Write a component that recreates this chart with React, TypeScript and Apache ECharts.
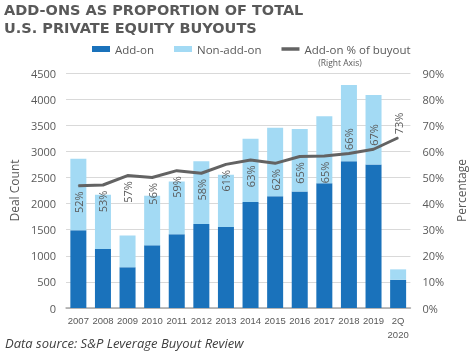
import React, { useEffect, useRef } from 'react';
import * as echarts from 'echarts';

const categories = ['2007', '2008', '2009', '2010', '2011', '2012', '2013', '2014', '2015', '2016', '2017', '2018', '2019', '2Q\n2020'];
const addOn = [1490, 1130, 780, 1200, 1410, 1610, 1550, 2030, 2140, 2230, 2390, 2810, 2750, 540];
const nonAddOn = [1370, 1040, 610, 950, 1010, 1200, 1000, 1210, 1310, 1200, 1280, 1460, 1330, 200];
const addOnPct = [46.8, 47.1, 50.7, 50.0, 52.6, 51.6, 55.0, 56.7, 55.4, 58.0, 58.2, 59.2, 60.8, 65.2];
const pctLabels = ['52%', '53%', '57%', '56%', '59%', '58%', '61%', '63%', '62%', '65%', '65%', '66%', '67%', '73%'];
const labelAbove = [false, false, false, false, false, false, false, false, false, false, false, true, true, true];

export default function App() {
  const ref = useRef<HTMLDivElement>(null);
  useEffect(() => {
    const chart = echarts.init(ref.current!, null, { renderer: 'svg' });
    const gray = '#595959';
    const font = 'Open Sans';
    chart.setOption({
      animation: false,
      title: {
        text: 'ADD-ONS AS PROPORTION OF TOTAL\nU.S. PRIVATE EQUITY BUYOUTS',
        left: 4,
        top: 1,
        padding: 0,
        textStyle: { fontFamily: 'DejaVu Sans', fontWeight: 'bold', fontSize: 14.5, lineHeight: 18, color: gray },
      },
      legend: {
        left: 92,
        top: 43,
        padding: 0,
        itemWidth: 18,
        itemHeight: 6,
        itemGap: 20,
        data: [
          { name: 'Add-on', icon: 'rect' },
          { name: 'Non-add-on', icon: 'rect' },
          { name: 'Add-on % of buyout', icon: 'path://M0,0H18V3.5H0Z' },
        ],
        textStyle: { color: gray, fontSize: 11.5, fontFamily: font },
      },
      graphic: [
        { type: 'text', x: 340, y: 62.5, style: { text: '(Right Axis)', fontSize: 8.5, fontFamily: font, fill: gray, align: 'center', verticalAlign: 'middle' } },
        { type: 'text', x: 5, y: 343, style: { text: 'Data source: S&P Leverage Buyout Review', fontSize: 13, fontStyle: 'italic', fontFamily: font, fill: '#404040', align: 'left', verticalAlign: 'middle' } },
      ],
      grid: { left: 58, right: 60, top: 73, bottom: 44 },
      xAxis: {
        type: 'category',
        data: categories,
        axisTick: { show: false },
        axisLine: { lineStyle: { color: '#a6a6a6', width: 1.5 } },
        axisLabel: { color: gray, fontSize: 9.5, fontFamily: 'Liberation Sans', margin: 5, lineHeight: 14, interval: 0 },
      },
      yAxis: [
        {
          type: 'value', min: 0, max: 4500, interval: 500,
          name: 'Deal Count', nameLocation: 'middle', nameGap: 40, nameRotate: 90,
          nameTextStyle: { color: gray, fontSize: 12, fontFamily: font },
          axisLine: { show: false }, axisTick: { show: false },
          axisLabel: { color: gray, fontSize: 11, fontFamily: font, margin: 10, formatter: (v: number) => String(v) },
          splitLine: { lineStyle: { color: '#d9d9d9', width: 1 } },
        },
        {
          type: 'value', min: 0, max: 90, interval: 10, position: 'right',
          name: 'Percentage', nameLocation: 'middle', nameGap: 42, nameRotate: 90,
          nameTextStyle: { color: gray, fontSize: 12, fontFamily: font },
          axisLine: { show: false }, axisTick: { show: false },
          axisLabel: { color: gray, fontSize: 11, fontFamily: font, margin: 12, formatter: '{value}%' },
          splitLine: { show: false },
        },
      ],
      series: [
        { name: 'Add-on', type: 'bar', stack: 'total', barWidth: 16, data: addOn, itemStyle: { color: '#1a72bb' } },
        { name: 'Non-add-on', type: 'bar', stack: 'total', barWidth: 16, data: nonAddOn, itemStyle: { color: '#a3daf4' } },
        {
          name: 'Add-on % of buyout', type: 'line', yAxisIndex: 1,
          data: addOnPct.map((v, i) => (labelAbove[i]
            ? { value: v, label: { position: 'top', align: 'left', distance: 3 } }
            : { value: v })),
          symbol: 'circle', symbolSize: 1, showSymbol: true,
          lineStyle: { color: '#636363', width: 3 },
          itemStyle: { color: '#636363' },
          label: {
            show: true, rotate: 90, position: 'bottom', distance: 5, align: 'right', verticalAlign: 'middle',
            color: gray, fontSize: 11, fontFamily: font,
            formatter: (p: any) => pctLabels[p.dataIndex],
          },
          z: 3,
        },
      ],
    });
    return () => chart.dispose();
  }, []);
  return <div ref={ref} style={{ position: 'fixed', left: 0, top: 0, width: 475, height: 352 }} />;
}
